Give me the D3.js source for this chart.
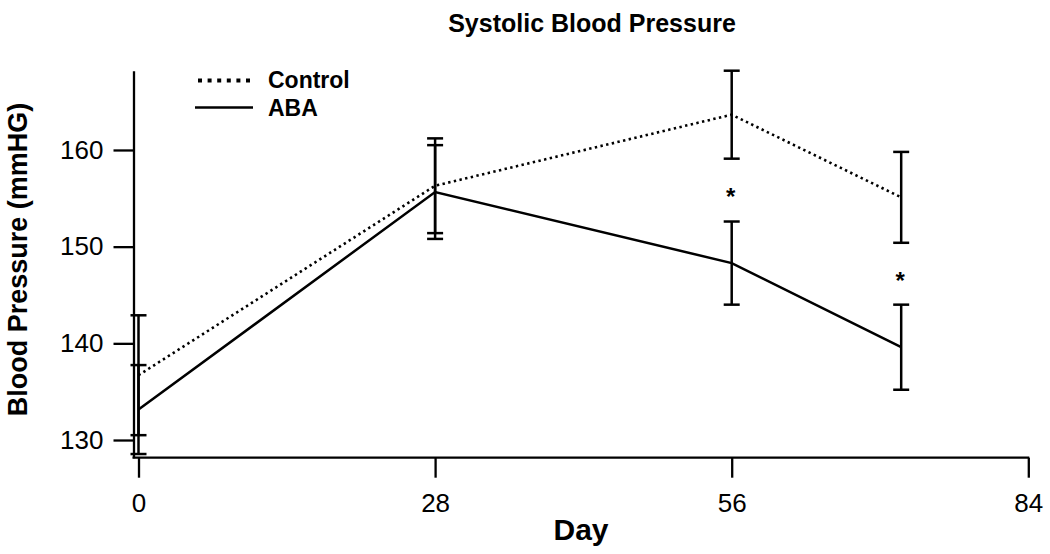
<!DOCTYPE html>
<html>
<head>
<meta charset="utf-8">
<script src="https://cdn.jsdelivr.net/npm/d3@7"></script>
<style>
  html, body { margin: 0; padding: 0; background: #fff; }
  svg { display: block; }
  text { font-family: "Liberation Sans", Arial, sans-serif; fill: #000; }
</style>
</head>
<body>
<svg id="chart" width="1050" height="554"></svg>
<script>
// ---- data ----
const days = [0, 28, 56, 72];
const controlMean = [136.7, 156.3, 163.65, 155.1];
const controlErr  = [6.2, 4.9, 4.55, 4.7];
const abaMean = [133.15, 155.65, 148.3, 139.6];
const abaErr  = [4.6, 4.85, 4.3, 4.4];
const sigDays = [56, 72];
const xTicks = [0, 28, 56, 84];
const yTicks = [130, 140, 150, 160];
const xDomain = [0, 84];
const yDomain = [128.17, 168.2];
const seriesNames = ["Control", "ABA"];

// ---- layout ----
const svg = d3.select("#chart");
const x = d3.scaleLinear().domain(xDomain).range([138.5, 1028.3]);
const y = d3.scaleLinear().domain(yDomain).range([457.7, 70.7]);
const yAxisX = 133.5;
const ink = "#000";

const control = days.map((d, i) => ({ day: d, mean: controlMean[i], err: controlErr[i] }));
const aba = days.map((d, i) => ({ day: d, mean: abaMean[i], err: abaErr[i] }));

// Y axis
const gy = svg.append("g")
  .attr("transform", `translate(${yAxisX},0)`)
  .call(d3.axisLeft(y).tickValues(yTicks).tickSize(20).tickSizeOuter(0).tickPadding(10).tickFormat(d3.format("d")));
gy.selectAll("path, line").attr("stroke", ink).attr("stroke-width", 2.3);
gy.selectAll("text").attr("font-size", 26).attr("font-family", "Liberation Sans, Arial, sans-serif").attr("fill", ink);

// X axis
const gx = svg.append("g")
  .attr("transform", `translate(0,${y.range()[0]})`)
  .call(d3.axisBottom(x).tickValues(xTicks).tickSize(20).tickSizeOuter(0).tickPadding(16).tickFormat(d3.format("d")));
gx.select(".domain").remove();
gx.selectAll("line").attr("stroke", ink).attr("stroke-width", 2.3);
gx.selectAll("text").attr("font-size", 26).attr("font-family", "Liberation Sans, Arial, sans-serif").attr("fill", ink);
svg.append("line")
  .attr("x1", yAxisX - 1).attr("x2", x(84) + 1)
  .attr("y1", y.range()[0]).attr("y2", y.range()[0])
  .attr("stroke", ink).attr("stroke-width", 2.3);

// lines
const line = d3.line().x(d => x(d.day)).y(d => y(d.mean));
svg.append("path").datum(control)
  .attr("d", line).attr("fill", "none").attr("stroke", ink)
  .attr("stroke-width", 2.6).attr("stroke-dasharray", "2.4,3.4");
svg.append("path").datum(aba)
  .attr("d", line).attr("fill", "none").attr("stroke", ink)
  .attr("stroke-width", 2.5);

// error bars
const capW = 8;
function errorBars(data) {
  const g = svg.append("g").attr("stroke", ink).attr("stroke-width", 2.5);
  data.forEach(d => {
    const cx = x(d.day);
    g.append("line").attr("x1", cx).attr("x2", cx).attr("y1", y(d.mean - d.err)).attr("y2", y(d.mean + d.err));
    [d.mean - d.err, d.mean + d.err].forEach(v => {
      g.append("line").attr("x1", cx - capW).attr("x2", cx + capW).attr("y1", y(v)).attr("y2", y(v));
    });
  });
}
errorBars(control);
errorBars(aba);

// significance asterisks
sigDays.forEach(sd => {
  const i = days.indexOf(sd);
  const mid = ((controlMean[i] - controlErr[i]) + (abaMean[i] + abaErr[i])) / 2;
  svg.append("text")
    .attr("x", x(sd) - 1).attr("y", y(mid))
    .attr("dy", "0.62em")
    .attr("text-anchor", "middle")
    .attr("font-size", 24).attr("font-weight", "bold")
    .text("*");
});

// legend
svg.append("line").attr("x1", 198).attr("x2", 252).attr("y1", 80.5).attr("y2", 80.5)
  .attr("stroke", ink).attr("stroke-width", 3.8).attr("stroke-dasharray", "4,5.6");
svg.append("line").attr("x1", 195).attr("x2", 253).attr("y1", 107.5).attr("y2", 107.5)
  .attr("stroke", ink).attr("stroke-width", 2.5);
svg.append("text").attr("x", 268).attr("y", 88).attr("font-size", 23).attr("font-weight", "bold").text(seriesNames[0]);
svg.append("text").attr("x", 268).attr("y", 115.5).attr("font-size", 23).attr("font-weight", "bold").text(seriesNames[1]);

// title and axis labels
svg.append("text").attr("x", 592).attr("y", 31.5).attr("text-anchor", "middle")
  .attr("font-size", 25).attr("font-weight", "bold").text("Systolic Blood Pressure");
svg.append("text").attr("x", 581).attr("y", 540).attr("text-anchor", "middle")
  .attr("font-size", 30).attr("font-weight", "bold").text("Day");
svg.append("text").attr("transform", "translate(26.5,259.5) rotate(-90)").attr("text-anchor", "middle")
  .attr("font-size", 27).attr("font-weight", "bold").text("Blood Pressure (mmHG)");
</script>
</body>
</html>
